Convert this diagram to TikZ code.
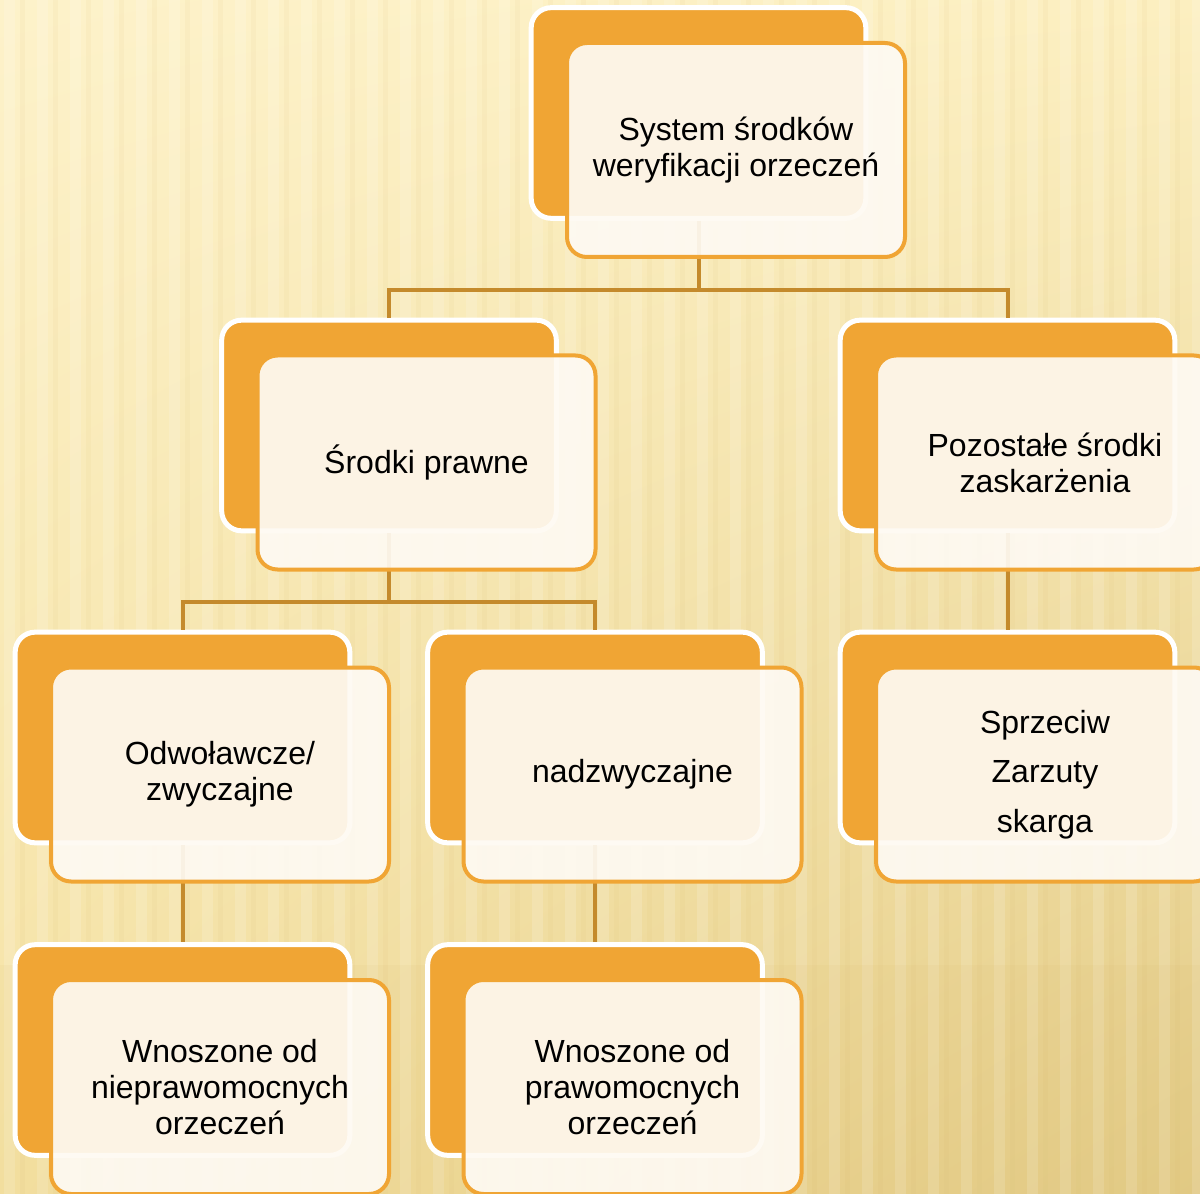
\documentclass[tikz,border=0pt]{standalone}
\usepackage{fontspec}
\setmainfont{Liberation Sans}
\usetikzlibrary{positioning,calc,shadings}

\definecolor{boxorange}{RGB}{240,165,52}
\definecolor{boxcream}{RGB}{254,250,243}
\definecolor{linkbrown}{RGB}{196,138,44}
\definecolor{bgtl}{RGB}{253,242,202}
\definecolor{bgtr}{RGB}{252,239,192}
\definecolor{bgbl}{RGB}{245,226,164}
\definecolor{bgbr}{RGB}{227,203,134}
\definecolor{stripe}{RGB}{214,180,100}

\tikzset{
	backbox/.style={draw=white, line width=3.75pt, fill=boxorange, rounded corners=15pt,
		minimum width=251pt, minimum height=158pt, inner sep=0pt},
	frontbox/.style={draw=boxorange, line width=3pt, fill=boxcream, fill opacity=0.92, text opacity=1,
		rounded corners=15pt, minimum width=253.5pt, minimum height=160.5pt, inner sep=0pt,
		align=center, font=\fontsize{24}{27}\selectfont},
	link/.style={draw=linkbrown, line width=3pt}
}

\begin{document}
\begin{tikzpicture}[x=0.75pt,y=0.75pt,yscale=-1,xscale=1]
	\useasboundingbox (0,0) rectangle (1200,1194);
	\clip (0,0) rectangle (1200,1194);
	
	%Background
	\shade[upper left=bgtl, upper right=bgtr, lower left=bgbl, lower right=bgbr] (0,0) rectangle (1200,1194);
	\foreach \i in {0,...,36} {
		\fill[white, opacity=0.15] (\i*33+4,0) rectangle ++(11,1194);
		\fill[stripe, opacity=0.07] (\i*33+20,0) rectangle ++(5,1194);
	}
	\fill[stripe, opacity=0.08] (0,965) rectangle (1200,1194);
	
	%Back Boxes
	\node[backbox] (sysb) at (698.5,113) {};
	\node[backbox] (prawb) at (389,425.5) {};
	\node[backbox] (pozb) at (1007.5,425.5) {};
	\node[backbox] (odwb) at (182.5,737.5) {};
	\node[backbox] (nadzb) at (595,737.5) {};
	\node[backbox] (sprzb) at (1007.5,737.5) {};
	\node[backbox] (wnonb) at (182.5,1050) {};
	\node[backbox] (wnopb) at (595,1050) {};
	
	%Connectors
	\draw[link] (sysb.south) -- ++(0,69) -| (prawb.north);
	\draw[link] (sysb.south) -- ++(0,69) -| (pozb.north);
	\draw[link] (prawb.south) -- ++(0,69) -| (odwb.north);
	\draw[link] (prawb.south) -- ++(0,69) -| (nadzb.north);
	\draw[link] (pozb.south) -- (sprzb.north);
	\draw[link] (odwb.south) -- (wnonb.north);
	\draw[link] (nadzb.south) -- (wnopb.north);
	
	%Front Boxes
	\node[frontbox] (sys) at ([shift={(37.5,37)}]sysb.center) {System środków\\weryfikacji orzeczeń};
	\node[frontbox] (praw) at ([shift={(37.5,37)}]prawb.center) {Środki prawne};
	\node[frontbox] (poz) at ([shift={(37.5,37)}]pozb.center) {Pozostałe środki\\zaskarżenia};
	\node[frontbox] (odw) at ([shift={(37.5,37)}]odwb.center) {Odwoławcze/\\zwyczajne};
	\node[frontbox] (nadz) at ([shift={(37.5,37)}]nadzb.center) {nadzwyczajne};
	\node[frontbox, font=\fontsize{24}{37}\selectfont] (sprz) at ([shift={(37.5,37)}]sprzb.center) {Sprzeciw\\Zarzuty\\skarga};
	\node[frontbox] (wnon) at ([shift={(37.5,37)}]wnonb.center) {Wnoszone od\\nieprawomocnych\\orzeczeń};
	\node[frontbox] (wnop) at ([shift={(37.5,37)}]wnopb.center) {Wnoszone od\\prawomocnych\\orzeczeń};
\end{tikzpicture}
\end{document}
